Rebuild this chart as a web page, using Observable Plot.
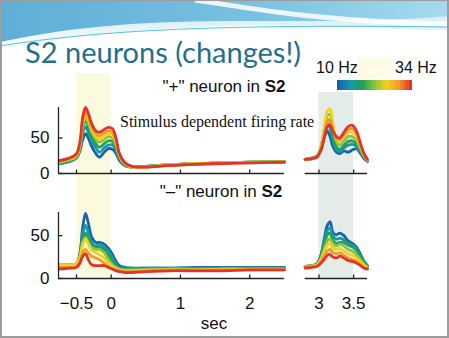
<!DOCTYPE html>
<html><head><meta charset="utf-8">
<script src="https://cdn.jsdelivr.net/npm/d3@7"></script>
<script src="https://cdn.jsdelivr.net/npm/@observablehq/plot@0.6"></script>
<style>
html,body{margin:0;padding:0;background:#fff;}
#slide{position:relative;width:449px;height:338px;overflow:hidden;background:#fff;font-family:"Liberation Sans",Arial,sans-serif;}
#slide > *{position:absolute;left:0;top:0;}
#bands,#panels{width:449px;height:338px;}
#frame{width:449px;height:338px;box-sizing:border-box;border:2px solid #9c9c9c;border-top-width:1px;pointer-events:none;}
#hl{left:357px !important;top:57px !important;width:35px;height:21px;background:#fdfbe4;}
#cbar{left:335px !important;top:80px !important;width:79px;height:10px;}
</style></head><body>
<div id="slide">
<svg id="deco" width="449" height="60">
 <defs>
  <linearGradient id="g1" x1="0" x2="1" y1="0" y2="0"><stop offset="0" stop-color="#5eaed6"/><stop offset="0.55" stop-color="#78c0e0"/><stop offset="1" stop-color="#a6dbee"/></linearGradient>
  <linearGradient id="g2" x1="0" x2="0" y1="0" y2="1"><stop offset="0" stop-color="#c4e5f2"/><stop offset="1" stop-color="#ffffff"/></linearGradient>
 </defs>
 <path d="M0,0 H449 V30 C 380,30 320,24 260,25 C 170,27 90,32 0,50 Z" fill="url(#g2)"/>
 <path d="M0,1 H449 V16 C 380,22 300,21 240,21 C 150,21 80,25 0,42 Z" fill="url(#g1)"/>
 <path d="M195,0 C 250,8 320,22 449,24" stroke="#ffffff" stroke-width="5" fill="none" opacity="0.85"/>
 <path d="M0,46 C 100,30 220,24 449,27" stroke="#55c3de" stroke-width="1" fill="none"/>
</svg>
<div id="hl"></div>
<div id="bands"></div>
<div id="panels"></div>
<div id="cbar"></div>
<svg id="texts" width="449" height="338" font-family="Liberation Sans, Arial, sans-serif" fill="#111">
 <text x="25" y="63" font-family="Lato" font-size="29" fill="#1f6f8d">S2 neurons (changes!)</text>
 <text x="316" y="73" font-size="16">10 Hz</text>
 <text x="395" y="73" font-size="16">34 Hz</text>
 <text x="224" y="92" font-size="17" text-anchor="middle">"+" neuron in <tspan font-weight="bold">S2</tspan></text>
 <text x="221" y="197" font-size="17" text-anchor="middle">"–" neuron in <tspan font-weight="bold">S2</tspan></text>
 <text x="120" y="127" font-size="16" font-family="Liberation Serif, Times New Roman, serif">Stimulus dependent firing rate</text>
 <text x="214" y="329" font-size="17" text-anchor="middle">sec</text>
</svg>
<div id="frame"></div>
</div>
<script>
// ---- data ----
const freqs = [10, 14, 18, 22, 26, 30, 34];
const freqColors = ["#1862ad", "#1798aa", "#22a055", "#86c440", "#f0d21e", "#f39b26", "#e3342c"];
const xWindows = [[-0.76, 2.5], [2.8, 3.7]];
const xTicks = [-0.5, 0, 1, 2, 3, 3.5];
const yTicks = [0, 50];
const stimBand = [-0.5, 0];
const probeBand = [3, 3.5];
const yMaxPlus = 93;
const yMaxMinus = 77;

const tLeft = [-0.75, -0.6, -0.5, -0.45, -0.41, -0.37, -0.33, -0.28, -0.22, -0.17, -0.1, -0.04, 0.02, 0.07, 0.12, 0.2, 0.3, 0.5, 0.8, 1.2, 1.6, 2.0, 2.5];
const tRight = [2.8, 2.9, 2.97, 3.03, 3.08, 3.12, 3.16, 3.2, 3.25, 3.3, 3.36, 3.42, 3.48, 3.54, 3.6, 3.65, 3.7];

// "+" neuron, one row per frequency (10 -> 34 Hz)
const plusLeft = [
 [14, 17, 22, 32, 48, 56, 50, 38, 28, 23, 30, 35, 34, 28, 18, 11, 9, 10, 12, 14, 15, 16, 16],
 [14, 17, 22, 34, 58, 66, 58, 45, 36, 30, 36, 40, 40, 32, 20, 12, 9, 10, 12, 14, 15, 16, 16],
 [15, 18, 23, 36, 64, 75, 66, 52, 42, 37, 42, 46, 45, 36, 22, 12, 9, 10, 12, 14, 15, 16, 17],
 [16, 19, 24, 38, 68, 79, 71, 58, 48, 44, 48, 52, 50, 40, 24, 13, 9, 10, 12, 14, 15, 16, 17],
 [16, 20, 25, 40, 72, 84, 76, 62, 52, 48, 52, 56, 55, 44, 25, 13, 9, 9, 12, 14, 15, 16, 16],
 [17, 21, 26, 42, 75, 88, 80, 66, 56, 53, 57, 60, 58, 46, 26, 14, 10, 9, 11, 13, 15, 15, 16],
 [18, 22, 28, 45, 80, 93, 85, 70, 60, 58, 62, 65, 63, 50, 28, 15, 10, 9, 11, 13, 14, 15, 16]
];
const plusRight = [
 [20, 22, 25, 36, 52, 60, 52, 38, 30, 28, 32, 30, 33, 35, 28, 21, 17],
 [20, 21, 24, 37, 58, 70, 64, 48, 34, 31, 36, 40, 41, 38, 30, 23, 18],
 [20, 21, 24, 38, 62, 76, 74, 55, 38, 34, 40, 45, 46, 42, 32, 24, 18],
 [20, 21, 24, 38, 64, 82, 83, 64, 45, 40, 46, 52, 52, 47, 35, 25, 19],
 [20, 21, 24, 38, 66, 88, 91, 70, 50, 45, 52, 58, 58, 52, 38, 26, 19],
 [20, 21, 23, 35, 58, 74, 76, 62, 50, 48, 55, 62, 63, 56, 40, 27, 19],
 [20, 21, 23, 33, 52, 66, 68, 60, 52, 50, 58, 66, 68, 60, 42, 28, 20]
];
// "–" neuron
const minusLeft = [
 [14, 15, 16, 30, 60, 76, 65, 48, 42, 42, 40, 35, 28, 20, 15, 13, 12, 12, 12, 13, 13, 13, 13],
 [15, 16, 17, 28, 52, 62, 54, 42, 38, 40, 37, 32, 24, 17, 13, 12, 12, 12, 12, 12, 12, 12, 12],
 [16, 16, 17, 27, 45, 53, 46, 38, 36, 37, 34, 27, 19, 14, 12, 11, 11, 11, 11, 11, 12, 12, 12],
 [16, 16, 17, 26, 42, 48, 42, 36, 34, 34, 30, 22, 16, 13, 11, 10, 10, 10, 11, 11, 11, 11, 11],
 [16, 16, 17, 25, 40, 46, 40, 33, 30, 28, 24, 18, 14, 12, 10, 9, 9, 10, 10, 10, 11, 11, 11],
 [13, 13, 14, 20, 30, 34, 30, 26, 24, 22, 18, 14, 11, 10, 9, 8, 8, 9, 9, 10, 10, 10, 10],
 [11, 12, 13, 18, 26, 29, 22, 16, 15, 15, 15, 13, 11, 9, 8, 7, 7, 8, 9, 9, 9, 10, 10]
];
const minusRight = [
 [14, 15, 17, 28, 48, 62, 66, 54, 51, 53, 50, 44, 41, 37, 28, 20, 15],
 [14, 15, 17, 27, 45, 56, 59, 50, 46, 47, 45, 41, 39, 35, 26, 19, 14],
 [14, 15, 17, 26, 42, 51, 53, 45, 41, 42, 42, 39, 37, 33, 25, 18, 14],
 [14, 15, 16, 24, 36, 44, 46, 41, 38, 40, 38, 34, 32, 28, 22, 17, 13],
 [13, 14, 16, 22, 32, 39, 41, 36, 34, 35, 32, 29, 27, 24, 19, 15, 12],
 [13, 14, 15, 20, 27, 32, 34, 30, 29, 30, 27, 24, 22, 20, 16, 13, 12],
 [12, 13, 14, 18, 23, 27, 28, 25, 24, 26, 24, 21, 20, 18, 15, 12, 11]
];
const legendSteps = [10,11,12,13,14,15,16,17,18,19,20,21,22,23,24,25,26,27,28,29,30,31,32,33,34];

// ---- helpers ----
const jet = d3.piecewise(d3.interpolateRgb, freqColors);
const colorScale = {type: "linear", domain: [10, 34], interpolate: jet};
const xScale = {domain: [xWindows[0][0], xWindows[1][1]], axis: null};
const W = 449, H = 338;
const font = {fontFamily: "Liberation Sans, Arial, sans-serif", fontSize: "17px", color: "#111", background: "transparent", overflow: "visible", position: "absolute", left: "0px", top: "0px", maxWidth: "none"};
const fmtTick = d => (d < 0 ? "\u2212" : "") + Math.abs(d);

function toRows(left, right) {
  const out = [];
  freqs.forEach((f, i) => {
    tLeft.forEach((t, j) => out.push({t, v: left[i][j], f, seg: "L"}));
    tRight.forEach((t, j) => out.push({t, v: right[i][j], f, seg: "R"}));
  });
  return out;
}
const tickUp = {draw(ctx) { ctx.moveTo(0, 0); ctx.lineTo(0, -4); }};
const tickRight = {draw(ctx) { ctx.moveTo(0, 0); ctx.lineTo(4, 0); }};

function bandPlot(range, top, fill) {
  return Plot.plot({
    width: W, height: H, marginLeft: 58, marginRight: 82, marginTop: top, marginBottom: 60,
    x: xScale, style: font,
    marks: [Plot.rect([range], {x1: d => d[0], x2: d => d[1], fill})]
  });
}

function panel(left, right, yMax, top, bottom, showX) {
  return Plot.plot({
    width: W, height: H, marginLeft: 58, marginRight: 82, marginTop: top, marginBottom: H - bottom,
    x: xScale,
    y: {domain: [0, yMax], axis: null},
    color: colorScale,
    style: font,
    marks: [
      Plot.line(toRows(left, right), {x: "t", y: "v", z: d => d.seg + d.f, stroke: "f", strokeWidth: 2.8, curve: "catmull-rom"}),
      Plot.ruleY(xWindows, {x1: d => d[0], x2: d => d[1], y: 0, stroke: "#222", strokeWidth: 1.3}),
      Plot.ruleX([xWindows[0][0]], {y1: 0, y2: yMax, stroke: "#222", strokeWidth: 1.3}),
      Plot.dot(xTicks, {x: d => d, y: 0, symbol: tickUp, stroke: "#222", fill: "none", strokeWidth: 1.3}),
      Plot.dot(yTicks, {x: xWindows[0][0], y: d => d, symbol: tickRight, stroke: "#222", fill: "none", strokeWidth: 1.3}),
      Plot.axisY(yTicks, {tickSize: 0, tickPadding: 9, fontSize: 17, label: null, tickFormat: fmtTick}),
      showX ? Plot.axisX(xTicks, {tickSize: 0, tickPadding: 18, fontSize: 17, label: null, tickFormat: fmtTick}) : null
    ]
  });
}

const bands = document.getElementById("bands");
bands.append(bandPlot(stimBand, 73, "#fbfadf"));
bands.append(bandPlot(probeBand, 92, "#e4ece7"));

const panels = document.getElementById("panels");
panels.append(panel(plusLeft, plusRight, yMaxPlus, 107, 173, false));
panels.append(panel(minusLeft, minusRight, yMaxMinus, 212, 278, true));

document.getElementById("cbar").append(Plot.plot({
  width: 79, height: 10, margin: 0,
  x: {type: "band", domain: legendSteps, axis: null, padding: 0},
  color: colorScale,
  style: {background: "transparent", maxWidth: "none"},
  marks: [Plot.cell(legendSteps, {x: d => d, fill: d => d})]
}));
</script>
</body></html>
